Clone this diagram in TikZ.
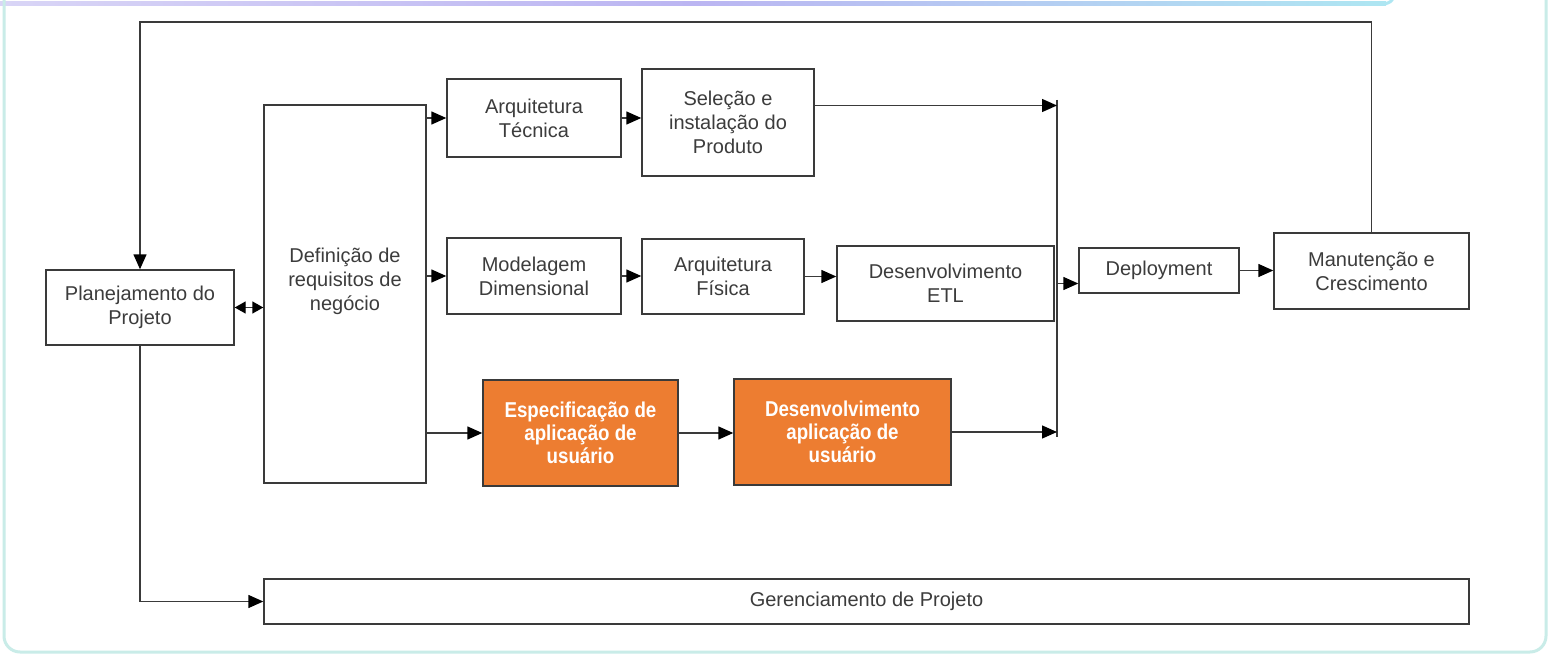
\documentclass[tikz,border=0pt]{standalone}
\usepackage{fontspec}
\setmainfont{Liberation Sans}
\newfontfamily\narrowfont[FakeStretch=0.87]{Liberation Sans}
\usepackage{xcolor}
\usepackage{tikz}
\usetikzlibrary{shapes,arrows.meta,positioning}
\definecolor{linecol}{HTML}{3A3A3A}
\definecolor{txtcol}{HTML}{3C3C3C}
\definecolor{orng}{HTML}{ED7D31}
\definecolor{frame}{HTML}{C9ECE8}
\definecolor{lilac}{HTML}{D9D5F6}
\definecolor{lilacmid}{HTML}{BBB5F2}
\definecolor{skyline}{HTML}{AEE6F2}
\tikzstyle{box}=[draw=linecol,line width=1.4pt,inner sep=2pt,align=center,text=txtcol,font=\fontsize{20}{24}\selectfont]
\tikzstyle{orangebox}=[box,fill=orng,text=white,font=\narrowfont\fontsize{21.5}{23}\selectfont\bfseries]
\tikzstyle{arr}=[draw=linecol,line width=1.4pt,-{Triangle[length=15pt,width=13pt,color=black]}]
\tikzstyle{arrboth}=[draw=linecol,line width=1.4pt,{Triangle[length=11pt,width=12pt,color=black]}-{Triangle[length=11pt,width=12pt,color=black]}]

\begin{document}
\begin{tikzpicture}[x=1pt,y=-1pt]
\useasboundingbox (0,0) rectangle (1559,666);
\clip (0,0) rectangle (1559,666);
\fill[white] (0,0) rectangle (1559,666);
% slide frames
\shade[left color=lilac,right color=skyline,middle color=lilacmid] (0,2) rectangle (1386,5.5);
\draw[skyline,line width=3pt] (1384,3.7) to[out=0,in=-105] (1394,-4);
\draw[frame,line width=3pt,rounded corners=16pt] (4,-40) -- (4,652) -- (1546,652) -- (1546,-40);
% boxes
\node[box,minimum width=188pt,minimum height=75pt] (plan) at (140,307.5) {Planejamento do\\Projeto};
\node[box,minimum width=162pt,minimum height=378pt,
  label={[box,draw=none,yshift=13pt]center:Definição de\\requisitos de\\negócio}] (defreq) at (345,294) {};
\node[box,minimum width=174pt,minimum height=78pt] (archtec) at (534,118) {Arquitetura\\Técnica};
\node[box,minimum width=172pt,minimum height=107pt] (selec) at (728,122.5) {Seleção e\\instalação do\\Produto};
\node[box,minimum width=174pt,minimum height=76pt] (model) at (534,276) {Modelagem\\Dimensional};
\node[box,minimum width=162pt,minimum height=75pt] (archfis) at (723,276.5) {Arquitetura\\Física};
\node[box,minimum width=217pt,minimum height=75pt] (etl) at (945.5,283.5) {Desenvolvimento\\ETL};
\node[box,minimum width=160pt,minimum height=45pt] (deploy) at (1159,270.5) {Deployment};
\node[box,minimum width=195pt,minimum height=76pt] (manut) at (1371.5,271) {Manutenção e\\Crescimento};
\node[orangebox,minimum width=195pt,minimum height=106pt] (espec) at (580.5,433) {Especificação de\\aplicação de\\usuário};
\node[orangebox,minimum width=217pt,minimum height=106pt] (devapp) at (842.5,432) {Desenvolvimento\\aplicação de\\usuário};
\node[box,minimum width=1205pt,minimum height=45pt] (gerenc) at (866.5,601.5) {Gerenciamento de Projeto};
% joining bar
\coordinate (bartop) at (1057,100);
\coordinate (barbot) at (1057,437);
\coordinate (topline) at (0,22);
\coordinate (selout) at ([yshift=17pt]selec.east);
\draw[linecol,line width=1.4pt] (bartop) -- (barbot);
% connectors
\draw[arrboth] (plan.east) -- (defreq.west |- plan.east);
\draw[arr] (defreq.east |- archtec.west) -- (archtec.west);
\draw[arr] (archtec.east) -- (archtec.east -| selec.west);
\draw[arr] (selout) -- (selout -| bartop);
\draw[arr] (defreq.east |- model.west) -- (model.west);
\draw[arr] (model.east) -- (model.east -| archfis.west);
\draw[arr] (archfis.east) -- (archfis.east -| etl.west);
\draw[arr] (bartop |- etl.east) -- (deploy.west |- etl.east);
\draw[arr] (deploy.east) -- (deploy.east -| manut.west);
\draw[arr] (defreq.east |- espec.west) -- (espec.west);
\draw[arr] (espec.east) -- (espec.east -| devapp.west);
\draw[arr] (devapp.east) -- (devapp.east -| bartop);
\draw[arr] (manut.north) -- (manut.north |- topline) -| (plan.north);
\draw[arr] (plan.south) |- (gerenc.west);
\end{tikzpicture}
\end{document}
